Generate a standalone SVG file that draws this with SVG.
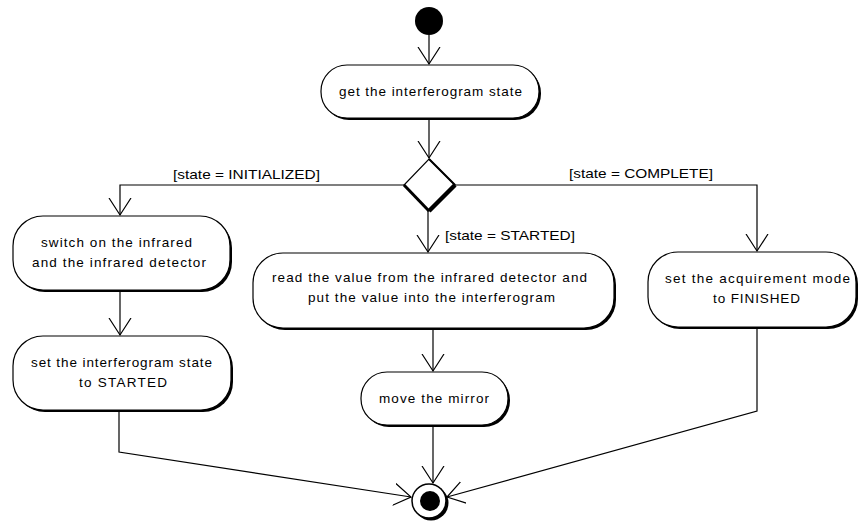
<svg xmlns="http://www.w3.org/2000/svg" width="862" height="525" viewBox="0 0 862 525">
<style>
.box{fill:#fff;stroke:#000;stroke-width:1.2}
.sh{fill:#000}
.t{font-family:"Liberation Sans",Arial,sans-serif;font-size:13.5px;fill:#000;text-anchor:start}
.c{fill:none;stroke:#000;stroke-width:1.2}
</style>
<defs>
<marker id="arr" markerUnits="userSpaceOnUse" markerWidth="24" markerHeight="28" refX="17" refY="12" orient="auto" viewBox="0 0 24 24">
<path d="M0,1 L17,12 L0,23" fill="none" stroke="#000" stroke-width="1.2"/>
</marker>
</defs>
<rect width="862" height="525" fill="#fff"/>

<g id="connectors">
<path class="c" d="M429,35 L429,64" marker-end="url(#arr)"/>
<path class="c" d="M429,119 L429,158" marker-end="url(#arr)"/>
<path class="c" d="M404,185 L120,185 L120,215" marker-end="url(#arr)"/>
<path class="c" d="M428,211 L428,252" marker-end="url(#arr)"/>
<path class="c" d="M455,185 L757,185 L757,251" marker-end="url(#arr)"/>
<path class="c" d="M120,291 L120,335" marker-end="url(#arr)"/>
<path class="c" d="M433,329 L433,371" marker-end="url(#arr)"/>
<path class="c" d="M119,411 L119,452 L411,497" marker-end="url(#arr)"/>
<path class="c" d="M433,426 L433,483" marker-end="url(#arr)"/>
<path class="c" d="M757,328 L757,411 L447,497" marker-end="url(#arr)"/>
<text class="t" x="173" y="179" textLength="147" lengthAdjust="spacingAndGlyphs">[state = INITIALIZED]</text>
<text class="t" x="445" y="240" textLength="130" lengthAdjust="spacingAndGlyphs">[state = STARTED]</text>
<text class="t" x="569" y="178" textLength="144" lengthAdjust="spacingAndGlyphs">[state = COMPLETE]</text>
</g>

<g id="start">
<circle cx="429" cy="21" r="14" fill="#000"/>
</g>

<g id="getState">
<rect class="sh" x="323" y="67" width="218" height="53" rx="26" ry="26"/>
<rect class="box" x="321" y="65" width="218" height="53" rx="26" ry="26"/>
<text class="t" x="339" y="96" textLength="183" lengthAdjust="spacing">get the interferogram state</text>
</g>

<g id="decision">
<polygon points="429,159 455,185 429,211 404,185" fill="#fff" stroke="#000" stroke-width="1.2"/>
<line x1="429" y1="159" x2="455" y2="185" stroke="#000" stroke-width="2"/>
<line x1="455" y1="185" x2="429" y2="211" stroke="#000" stroke-width="4.5"/>
<line x1="429" y1="211" x2="404" y2="185" stroke="#000" stroke-width="3"/>
</g>

<g id="switchOn">
<rect class="sh" x="15" y="218" width="217" height="74" rx="30" ry="30"/>
<rect class="box" x="13" y="216" width="217" height="74" rx="30" ry="30"/>
<text class="t" x="41" y="247" textLength="151" lengthAdjust="spacing">switch on the infrared</text>
<text class="t" x="32" y="267" textLength="174" lengthAdjust="spacing">and the infrared detector</text>
</g>

<g id="setStarted">
<rect class="sh" x="15" y="338" width="218" height="74" rx="30" ry="30"/>
<rect class="box" x="13" y="336" width="218" height="74" rx="30" ry="30"/>
<text class="t" x="31" y="367" textLength="181" lengthAdjust="spacing">set the interferogram state</text>
<text class="t" x="79" y="387" textLength="88" lengthAdjust="spacing">to STARTED</text>
</g>

<g id="readValue">
<rect class="sh" x="255" y="255" width="361" height="75" rx="30" ry="30"/>
<rect class="box" x="253" y="253" width="361" height="75" rx="30" ry="30"/>
<text class="t" x="272" y="282" textLength="315" lengthAdjust="spacing">read the value from the infrared detector and</text>
<text class="t" x="308" y="302" textLength="247" lengthAdjust="spacing">put the value into the interferogram</text>
</g>

<g id="moveMirror">
<rect class="sh" x="363" y="374" width="147" height="53" rx="26" ry="26"/>
<rect class="box" x="361" y="372" width="147" height="53" rx="26" ry="26"/>
<text class="t" x="379" y="403" textLength="110" lengthAdjust="spacing">move the mirror</text>
</g>

<g id="setFinished">
<rect class="sh" x="650" y="254" width="208" height="75" rx="30" ry="30"/>
<rect class="box" x="648" y="252" width="208" height="75" rx="30" ry="30"/>
<text class="t" x="665" y="283" textLength="185" lengthAdjust="spacing">set the acquirement mode</text>
<text class="t" x="713" y="303" textLength="87" lengthAdjust="spacing">to FINISHED</text>
</g>

<g id="end">
<circle cx="431" cy="503" r="17.5" fill="#000"/>
<circle cx="429" cy="501" r="17" fill="#fff" stroke="#000" stroke-width="1.5"/>
<circle cx="430" cy="501" r="10" fill="#000"/>
</g>
</svg>
